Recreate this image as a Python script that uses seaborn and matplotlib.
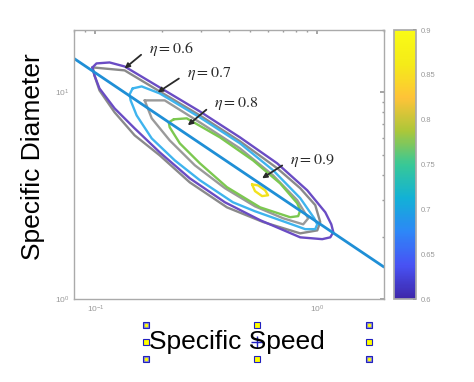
# Imports:
import pandas as pd
import matplotlib
matplotlib.use("Agg")
import matplotlib.pyplot as plt
import matplotlib.colors as mcolors
from matplotlib.lines import Line2D
from matplotlib.ticker import NullFormatter
import seaborn as sns

# Data:
# Efficiency contours (specific speed, specific diameter):
ns_06 = [0.0970, 0.1011, 0.1158, 0.1354, 0.1949, 0.2957, 0.4485, 0.6596, 0.9016, 1.088,
         1.158, 1.182, 1.146, 1.054, 0.8384, 0.5526, 0.3837, 0.2664, 0.1949, 0.1502,
         0.1220, 0.1043, 0.0990, 0.0970]
ds_06 = [13.21, 13.81, 13.96, 13.35, 10.57, 8.09, 6.06, 4.54, 3.36, 2.63,
         2.30, 2.11, 1.99, 1.95, 1.99, 2.41, 2.94, 3.84, 5.13, 6.70,
         8.37, 10.45, 12.08, 13.21]

ns_07 = [0.1471, 0.1616, 0.1949, 0.2957, 0.4485, 0.6327, 0.8384, 0.9699, 1.0007, 0.9800,
         0.8831, 0.7021, 0.5244, 0.4171, 0.2957, 0.2279, 0.1794, 0.1534, 0.1441, 0.1426,
         0.1471]
ds_07 = [10.45, 10.69, 9.89, 7.57, 5.67, 4.20, 3.08, 2.46, 2.30, 2.18,
         2.18, 2.38, 2.66, 2.94, 3.76, 4.69, 5.99, 7.74, 9.15, 9.78,
         10.45]

ns_08 = [0.2255, 0.2582, 0.3642, 0.5136, 0.6806, 0.8126, 0.8384, 0.8212, 0.7552, 0.5526,
         0.3917, 0.2957, 0.2401, 0.2162, 0.2141, 0.2255]
ds_08 = [7.41, 7.49, 6.06, 4.69, 3.63, 2.91, 2.69, 2.52, 2.49, 2.78,
         3.48, 4.54, 5.67, 6.78, 7.16, 7.41]

ns_09 = [0.5083, 0.5412, 0.5821, 0.6006, 0.5642, 0.5244, 0.5083]
ds_09 = [3.59, 3.55, 3.36, 3.18, 3.15, 3.33, 3.59]

# Gray contours:
ns_gray_outer = [0.0970, 0.1354, 0.1949, 0.2957, 0.4485, 0.6596, 0.8384, 0.9800, 1.032, 1.0007,
                 0.8384, 0.5701, 0.3917, 0.2664, 0.1949, 0.1502, 0.1220, 0.1043, 0.0990, 0.0970]
ds_gray_outer = [13.21, 12.78, 10.11, 7.74, 5.80, 4.30, 3.44, 2.85, 2.36, 2.15,
                 2.08, 2.36, 2.78, 3.67, 4.96, 6.20, 8.01, 10.22, 12.08, 13.21]

ns_gray_inner = [0.1667, 0.2053, 0.2957, 0.4485, 0.6327, 0.8126, 0.9112, 0.8648, 0.7021, 0.5244,
                 0.3837, 0.2807, 0.2162, 0.1794, 0.1667]
ds_gray_inner = [9.15, 9.15, 7.16, 5.36, 3.97, 3.01, 2.46, 2.30, 2.46, 2.81,
                 3.44, 4.44, 5.86, 7.49, 9.15]

# Cordier line:
cordier_ns = [0.08, 2.0]
cordier_ds = [14.6, 1.43]

# Labels:
level_labels = [r"$\eta = 0.6$", r"$\eta = 0.7$", r"$\eta = 0.8$", r"$\eta = 0.9$"]
label_ns = [0.1738, 0.2582, 0.3421, 0.7552]
label_ds = [16.3, 12.36, 8.85, 4.69]
arrow_ns = [0.1354, 0.1909, 0.2610, 0.5642]
arrow_ds = [13.06, 10.0, 6.93, 3.84]

cbar_ticks = [0.6, 0.65, 0.7, 0.75, 0.8, 0.85, 0.9]
cbar_labels = ["0.6", "0.65", "0.7", "0.75", "0.8", "0.85", "0.9"]

# Style:
sns.set_theme(style="white")
plt.rcParams["font.family"] = ["Liberation Sans", "DejaVu Sans"]
plt.rcParams["mathtext.fontset"] = "stix"

# Colormap (parula-like):
parula = mcolors.LinearSegmentedColormap.from_list("parula", [
    (0.2422, 0.1504, 0.6603), (0.2810, 0.3228, 0.9579), (0.1786, 0.5289, 0.9682),
    (0.0689, 0.6948, 0.8394), (0.2161, 0.7843, 0.5923), (0.6720, 0.7793, 0.2227),
    (0.9970, 0.7659, 0.2199), (0.9598, 0.9218, 0.0948), (0.9769, 0.9839, 0.0805)])
norm = mcolors.Normalize(vmin=0.6, vmax=0.9)

# Figure:
fig = plt.figure(figsize=(4.74, 3.82), dpi=100)
ax = fig.add_axes([0.156, 0.217, 0.654, 0.704])
ax.set_xscale("log")
ax.set_yscale("log")

# Contours:
contours = [
    (ns_gray_outer, ds_gray_outer, "#8a8a8a"),
    (ns_06, ds_06, "#6a4cc4"),
    (ns_07, ds_07, "#3fb4ee"),
    (ns_gray_inner, ds_gray_inner, "#9a9a9a"),
    (ns_08, ds_08, "#7cc850"),
    (ns_09, ds_09, "#f2e21e"),
]
for ns, ds, color in contours:
    sns.lineplot(
        # Data:
        data=pd.DataFrame({"ns": ns, "ds": ds}),
        x="ns",
        y="ds",

        # Style:
        sort=False,
        estimator=None,
        color=color,
        linewidth=1.7,
        solid_joinstyle="round",
        ax=ax
    )

# Cordier line:
sns.lineplot(x=cordier_ns, y=cordier_ds, color="#1f8fd6", linewidth=2, ax=ax)

# Annotations:
for text, tx, ty, hx, hy in zip(level_labels, label_ns, label_ds, arrow_ns, arrow_ds):
    ax.annotate(
        text, xy=(hx, hy), xytext=(tx, ty),
        ha="left", va="center", fontsize=11.5, color="#2a2a2a",
        arrowprops=dict(arrowstyle="-|>", color="#2a2a2a", lw=1.3,
                        relpos=(0, 0.5), shrinkA=4, shrinkB=0, mutation_scale=7)
    )

# Axes:
ax.set_xlim(0.08, 2.0)
ax.set_ylim(1, 20)
ax.set_xlabel("")
ax.set_ylabel("")
ax.xaxis.set_minor_formatter(NullFormatter())
ax.yaxis.set_minor_formatter(NullFormatter())
ax.tick_params(which="both", direction="in", top=True, right=True,
               color="#999999", labelsize=6, labelcolor="#999999")
ax.tick_params(which="major", length=3)
ax.tick_params(which="minor", length=1.5)
for spine in ax.spines.values():
    spine.set_color("#aaaaaa")
    spine.set_linewidth(1)

# Colorbar:
cax = fig.add_axes([0.831, 0.217, 0.046, 0.704])
cb = fig.colorbar(plt.cm.ScalarMappable(norm=norm, cmap=parula), cax=cax)
cb.set_ticks(cbar_ticks)
cb.set_ticklabels(cbar_labels)
cb.ax.tick_params(direction="in", length=2, color="#333333",
                  labelsize=5.5, labelcolor="#999999")
cb.outline.set_edgecolor("#aaaaaa")

# Labels:
fig.text(0.07, 0.59, "Specific Diameter", rotation=90, ha="center", va="center",
         fontsize=19, color="black")
fig.text(0.499, 0.105, "Specific Speed", ha="center", va="center",
         fontsize=19, color="black")

# Selection handles of the text box:
handle_x = [0.308, 0.542, 0.778]
handle_y = [0.149, 0.105, 0.060]
for i, hx in enumerate(handle_x):
    for j, hy in enumerate(handle_y):
        if i == 1 and j == 1:
            continue
        corner = (i != 1 and j != 1)
        fig.add_artist(Line2D([hx], [hy], transform=fig.transFigure, marker="s",
                              markersize=5, markerfacecolor="#8c8cc8" if corner else "#ffff00",
                              markeredgecolor="#2020c0", markeredgewidth=0.8))
        if corner:
            fig.add_artist(Line2D([hx], [hy], transform=fig.transFigure, marker="o",
                                  markersize=2.5, markerfacecolor="#ffff00",
                                  markeredgewidth=0))
fig.add_artist(Line2D([0.542], [0.105], transform=fig.transFigure, marker="+",
                      markersize=8, color="#2020c0", markeredgewidth=1))

# Save:
fig.savefig("out.png", dpi=100)
